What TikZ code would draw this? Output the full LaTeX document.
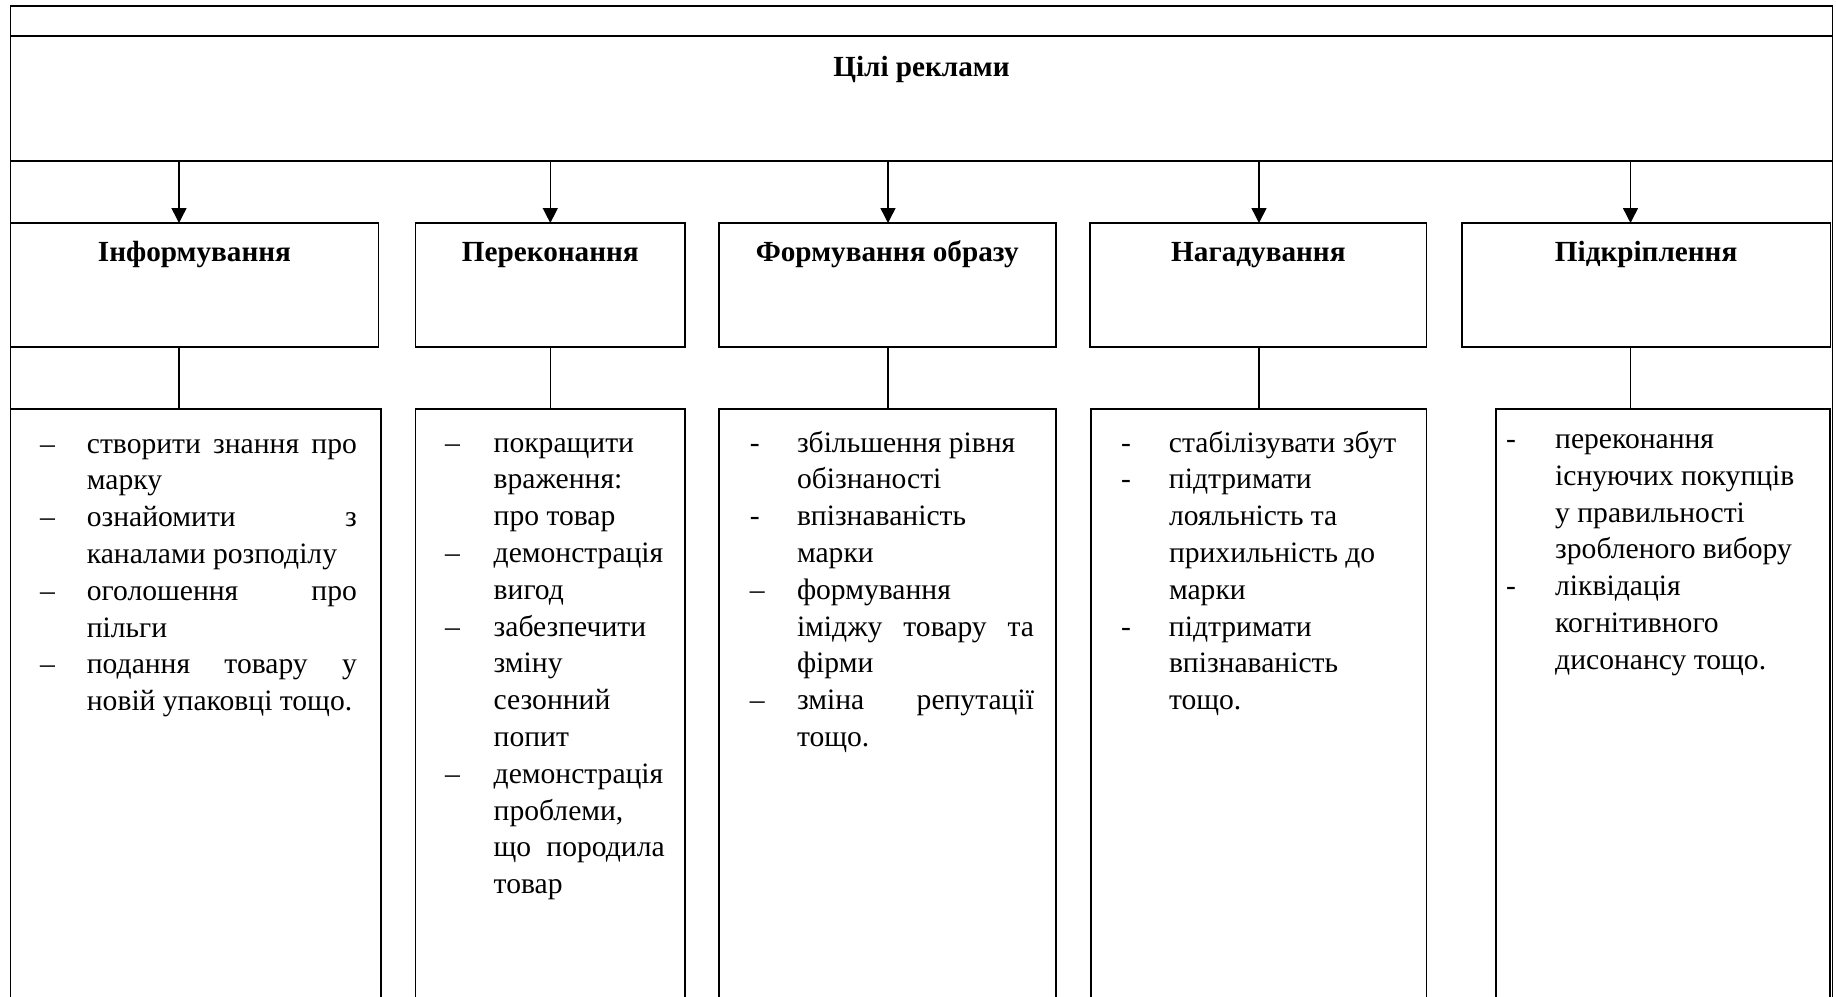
\documentclass[tikz,border=0pt]{standalone}
\usepackage{fontspec}
\setmainfont{Liberation Serif}
\usetikzlibrary{arrows.meta}
\newlength\dashw
\newlength\colw
\newcommand\itm[1]{\makebox[\dashw][l]{#1}}
\newcommand\cnt{\hspace*{\dashw}}
\newcommand\jst[1]{\makebox[\colw][s]{#1}}
\newcommand\bodyfont{\fontsize{29.6}{36.8}\selectfont}
\newcommand\headfont{\fontsize{29.2}{36.8}\selectfont\bfseries}
\begin{document}
\begin{tikzpicture}[x=1pt,y=-1pt,
  box/.style={draw, line width=1.8pt, inner sep=0pt, outer sep=0pt, anchor=north west},
  arr/.style={line width=1.5pt, -{Triangle[width=15pt,length=15pt]}},
  con/.style={line width=1.5pt},
  head/.style={font=\headfont, anchor=base, inner sep=0pt},
  lst/.style={font=\bodyfont, anchor=base west, inner sep=0pt}]
\useasboundingbox (0,0) rectangle (1836,996);
\clip (0,0) rectangle (1836,996);
% frame and title
\node[box, minimum width=1822pt, minimum height=1010pt] (frame) at (10.5,6.3) {};
\node[box, minimum width=1822pt, minimum height=125pt] (tb) at (10.5,35.7) {};
\node[head] (ttl) at (921.5,76.7) {Цілі реклами};
% header boxes
\node[box, minimum width=368pt, minimum height=124pt] (h1) at (10.5,223) {};
\node[box, minimum width=269.9pt, minimum height=124pt] (h2) at (415.4,223) {};
\node[box, minimum width=336.8pt, minimum height=124pt] (h3) at (718.8,223) {};
\node[box, minimum width=336.2pt, minimum height=124pt] (h4) at (1090.3,223) {};
\node[box, minimum width=368.8pt, minimum height=124pt] (h5) at (1461.7,223) {};
\node[head] (t1) at (h1.north |- 0,261.7) {Інформування};
\node[head] (t2) at (h2.north |- 0,261.7) {Переконання};
\node[head] (t3) at (h3.north |- 0,261.7) {Формування образу};
\node[head] (t4) at (h4.north |- 0,261.7) {Нагадування};
\node[head] (t5) at (h5.north |- 0,261.7) {Підкріплення};
% text boxes
\node[box, minimum width=370.5pt, minimum height=600pt] (b1) at (10.5,409) {};
\node[box, minimum width=269.9pt, minimum height=600pt] (b2) at (415.4,409) {};
\node[box, minimum width=337.4pt, minimum height=600pt] (b3) at (718.6,409) {};
\node[box, minimum width=335.5pt, minimum height=600pt] (b4) at (1091,409) {};
\node[box, minimum width=334.5pt, minimum height=600pt] (b5) at (1495.7,409) {};
% connectors
\coordinate (x1) at (179,0);
\coordinate (x2) at (550.3,0);
\coordinate (x3) at (888,0);
\coordinate (x4) at (1259,0);
\coordinate (x5) at (1630.5,0);
\foreach \i in {1,...,5}{
  \draw[arr] (tb.south -| x\i) -- (h\i.north -| x\i);
  \draw[con] (h\i.south -| x\i) -- (b\i.north -| x\i);
}
% lists
\node[lst] (l1) at (40,453) {\setlength\dashw{46.7pt}\setlength\colw{270pt}%
\begin{tabular}[t]{@{}l@{}}
\itm{–}\jst{створити знання про}\\
\cnt марку\\
\itm{–}\jst{ознайомити\hfill з}\\
\cnt каналами розподілу\\
\itm{–}\jst{оголошення\hfill про}\\
\cnt пільги\\
\itm{–}\jst{подання товару у}\\
\cnt новій упаковці тощо.
\end{tabular}};
\node[lst] (l2) at (445,452) {\setlength\dashw{48.5pt}\setlength\colw{171pt}%
\begin{tabular}[t]{@{}l@{}}
\itm{–}покращити\\
\cnt враження:\\
\cnt про товар\\
\itm{–}демонстрація\\
\cnt вигод\\
\itm{–}забезпечити\\
\cnt зміну\\
\cnt сезонний\\
\cnt попит\\
\itm{–}демонстрація\\
\cnt проблеми,\\
\cnt\jst{що породила}\\
\cnt товар
\end{tabular}};
\node[lst] (l3) at (749.7,452) {\setlength\dashw{47.1pt}\setlength\colw{237pt}%
\begin{tabular}[t]{@{}l@{}}
\itm{-}збільшення рівня\\
\cnt обізнаності\\
\itm{-}впізнаваність\\
\cnt марки\\
\itm{–}формування\\
\cnt\jst{іміджу товару та}\\
\cnt фірми\\
\itm{–}\jst{зміна\hfill репутації}\\
\cnt тощо.
\end{tabular}};
\node[lst] (l4) at (1121,452) {\setlength\dashw{47.8pt}\setlength\colw{237pt}%
\begin{tabular}[t]{@{}l@{}}
\itm{-}стабілізувати збут\\
\itm{-}підтримати\\
\cnt лояльність та\\
\cnt прихильність до\\
\cnt марки\\
\itm{-}підтримати\\
\cnt впізнаваність\\
\cnt тощо.
\end{tabular}};
\node[lst] (l5) at (1506,448.5) {\setlength\dashw{49pt}\setlength\colw{237pt}%
\begin{tabular}[t]{@{}l@{}}
\itm{-}переконання\\
\cnt існуючих покупців\\
\cnt у правильності\\
\cnt зробленого вибору\\
\itm{-}ліквідація\\
\cnt когнітивного\\
\cnt дисонансу тощо.
\end{tabular}};
\end{tikzpicture}
\end{document}
